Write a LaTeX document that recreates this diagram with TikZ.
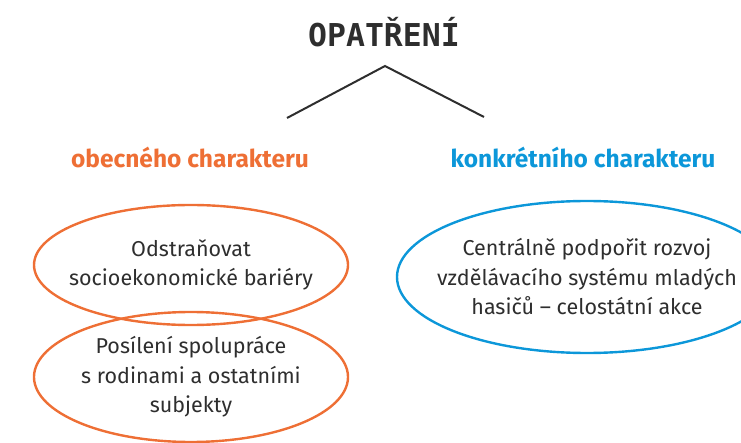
\documentclass[tikz,border=0pt]{standalone}
\usepackage{fontspec}
\setmainfont{Fira Sans}
\setmonofont{DejaVu Sans Mono}
\usetikzlibrary{shapes.geometric}
\definecolor{orangeC}{HTML}{EE6F35}
\definecolor{blueC}{HTML}{0C97D9}
\definecolor{textC}{HTML}{2E2E2E}

\begin{document}
\begin{tikzpicture}[x=1pt, y=-1pt,
  oval/.style={ellipse, line width=2.4pt, inner xsep=-24pt, inner ysep=0pt, align=center, text=textC, font=\fontsize{21.5}{29.5}\selectfont},
  head/.style={font=\fontsize{24.5}{28}\selectfont\bfseries}]
\useasboundingbox (0,0) rectangle (741,443);
\clip (0,0) rectangle (741,443);
\node[font=\fontsize{31.5}{34}\selectfont\ttfamily\bfseries, text=textC] (node_title) [] at (384,32) {OPATŘENÍ};
\coordinate (node_apex) at (385,66);
\coordinate (node_left_end) at (287,118);
\coordinate (node_right_end) at (484,117);
\draw[line width=2pt, textC] (node_left_end) -- (node_apex) -- (node_right_end);
\node[head, text=orangeC] (node_obecne) [] at (190,157) {obecného charakteru};
\node[head, text=blueC] (node_konkretni) [] at (583,157) {konkrétního charakteru};
\node[oval, draw=orangeC, minimum width=314, minimum height=120] (node_bariery) [] at (191,265) {Odstraňovat\\socioekonomické bariéry};
\node[oval, draw=orangeC, minimum width=314, minimum height=130] (node_spoluprace) [] at (191,377) {Posílení spolupráce\\s rodinami a ostatními\\subjekty};
\node[oval, draw=blueC, minimum width=380, minimum height=152] (node_hasici) [] at (587,277) {Centrálně podpořit rozvoj\\vzdělávacího systému mladých\\hasičů -- celostátní akce};
\end{tikzpicture}
\end{document}
